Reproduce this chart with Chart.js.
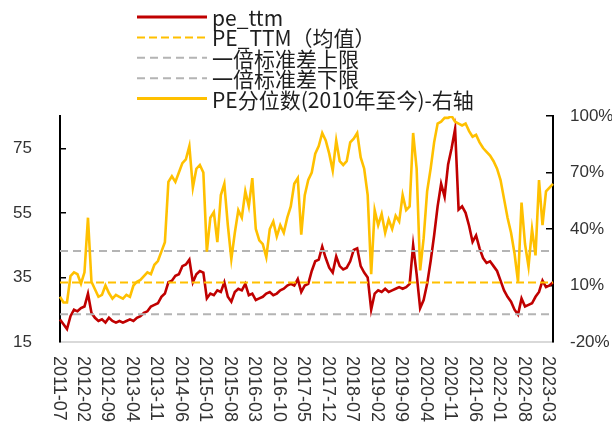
<!DOCTYPE html>
<html>
<head>
<meta charset="utf-8">
<script src="https://cdn.jsdelivr.net/npm/chart.js@4.4.1/dist/chart.umd.min.js"></script>
<style>
  html, body { margin: 0; padding: 0; background: #fff; }
  #wrap { width: 612px; height: 427px; }
</style>
</head>
<body>
<div id="wrap"><canvas id="c" width="612" height="427"></canvas></div>
<script>
// Monthly series, July 2011 through April 2023
const startYear = 2011;
const startMonth = 7;
const monthCount = 142;

// pe_ttm, monthly
const peTtm = [
  22, 20.5, 19, 23, 25, 24.5, 25.5, 26, 30, 24,
  22.5, 21.5, 22, 21, 22.5, 21.5, 21, 21.5, 21, 21.5,
  22, 21.5, 22.5, 23, 24, 24.5, 26, 26.5, 27, 29,
  30, 33.5, 34, 35.5, 36, 38.5, 39, 40.5, 33.5, 36,
  37, 36.5, 28.5, 30, 29.5, 31, 30.5, 33.5, 29, 27.5,
  30.5, 31.5, 31, 33, 29.5, 30, 28, 28.5, 29, 30,
  30.5, 29.5, 30, 31, 31.5, 32.5, 33, 32.5, 34.5, 30.5,
  32.5, 33, 37, 40, 40.5, 44.5, 41, 38, 36.5, 41.5,
  38.5, 37.5, 38, 40, 43.5, 44, 38.5, 36.5, 35, 25,
  30, 31, 30.5, 31.5, 30.5, 31, 31.5, 32, 31.5, 32,
  33, 45, 36, 25.5, 28, 33, 40, 48, 57, 64,
  60, 70, 75, 81, 56, 57, 55, 51, 46, 48,
  44, 41, 39.5, 40, 38.5, 37, 34, 31, 29, 27.5,
  25, 23.5, 28.5, 26, 26.5, 27, 29, 30.5, 34, 32,
  32.5, 33.5
];

// PE percentile since 2010 (%), monthly
const pePercentile = [
  4, 1, 1, 15, 17, 16, 11, 17, 46, 12,
  8, 4, 5, 10, 6, 3, 5, 4, 3, 5,
  4, 10, 12, 13, 15, 17, 16, 21, 23, 28,
  33, 65, 68, 65, 70, 75, 77, 84, 62, 72,
  74, 70, 28, 46, 49, 33, 58, 64, 42, 24,
  38, 50, 46, 60, 52, 67, 40, 34, 32, 25,
  40, 44, 36, 42, 38, 46, 52, 64, 67, 37,
  58, 66, 70, 80, 84, 91, 87, 80, 71, 87,
  76, 74, 76, 86, 88, 91, 78, 72, 58, 16,
  50, 42, 48, 38, 45, 40, 47, 44, 58, 50,
  52, 91, 72, 18, 35, 60, 72, 86, 96, 97,
  99, 99, 100, 97, 96, 95, 96, 92, 89, 90,
  86, 83, 81, 79, 76, 72, 66, 56, 46, 38,
  27, 12, 54, 32, 20, 40, 26, 66, 42, 60,
  62, 64
];

// Mean and one-standard-deviation band of pe_ttm
const peMean = [33.4];
const peUpper = [43.2];
const peLower = [23.6];

const seriesNames = ['pe_ttm', 'PE_TTM（均值）', '一倍标准差上限', '一倍标准差下限', 'PE分位数(2010年至今)-右轴'];

const xTickLabels = [
  '2011-07', '2012-02', '2012-09', '2013-04', '2013-11', '2014-06', '2015-01',
  '2015-08', '2016-03', '2016-10', '2017-05', '2017-12', '2018-07', '2019-02',
  '2019-09', '2020-04', '2020-11', '2021-06', '2022-01', '2022-08', '2023-03'
];
const leftTicks = [15, 35, 55, 75];
const rightTicks = [-20, 10, 40, 70, 100];

const categories = [];
for (let i = 0; i < monthCount; i++) {
  const total = startMonth - 1 + i;
  const yy = startYear + Math.floor(total / 12);
  const mm = (total % 12) + 1;
  categories.push(yy + '-' + String(mm).padStart(2, '0'));
}
const flat = v => categories.map(() => v);

const RED = '#C00000';
const GOLD = '#FFC000';
const GREY = '#B4B4B4';

const tickFont = { family: "'Liberation Sans', Arial, sans-serif", size: 17 };

// Stacked legend in the top band
const legendPlugin = {
  id: 'stackLegend',
  afterDraw(chart) {
    const ctx = chart.ctx;
    const x0 = 137, x1 = 207, tx = 212, y0 = 17, step = 20.4;
    chart.data.datasets.forEach((ds, i) => {
      const y = y0 + i * step;
      ctx.save();
      ctx.beginPath();
      ctx.strokeStyle = ds.borderColor;
      ctx.lineWidth = ds.legendWidth;
      ctx.setLineDash(ds.borderDash || []);
      ctx.moveTo(x0, y);
      ctx.lineTo(x1, y);
      ctx.stroke();
      ctx.setLineDash([]);
      ctx.fillStyle = '#1e1e1e';
      ctx.font = "21px 'Noto Sans CJK SC', sans-serif";
      ctx.textAlign = 'left';
      ctx.textBaseline = 'middle';
      ctx.fillText(ds.label, tx, y + 1);
      ctx.restore();
    });
  }
};

// Vertical date labels under the x axis, read top to bottom
const dateLabelPlugin = {
  id: 'dateLabels',
  afterDraw(chart) {
    const ctx = chart.ctx;
    const xs = chart.scales.x;
    const top = chart.chartArea.bottom + 14;
    ctx.save();
    ctx.fillStyle = '#333';
    ctx.font = "18px 'Liberation Sans', Arial, sans-serif";
    ctx.textAlign = 'left';
    ctx.textBaseline = 'middle';
    xTickLabels.forEach(lbl => {
      const idx = categories.indexOf(lbl);
      if (idx < 0) return;
      const px = xs.getPixelForValue(idx) - 1.5;
      ctx.save();
      ctx.translate(px, top);
      ctx.rotate(Math.PI / 2);
      ctx.fillText(lbl, 0, 0);
      ctx.restore();
    });
    ctx.restore();
  }
};

new Chart(document.getElementById('c'), {
  type: 'line',
  data: {
    labels: categories,
    datasets: [
      { label: seriesNames[0], data: peTtm, yAxisID: 'y', borderColor: RED, borderWidth: 2.6, legendWidth: 3, pointRadius: 0, order: 5 },
      { label: seriesNames[1], data: flat(peMean[0]), yAxisID: 'y', borderColor: GOLD, borderWidth: 2, legendWidth: 2, borderDash: [8, 4], pointRadius: 0, order: 4 },
      { label: seriesNames[2], data: flat(peUpper[0]), yAxisID: 'y', borderColor: GREY, borderWidth: 2, legendWidth: 2, borderDash: [8, 5], pointRadius: 0, order: 3 },
      { label: seriesNames[3], data: flat(peLower[0]), yAxisID: 'y', borderColor: GREY, borderWidth: 2, legendWidth: 2, borderDash: [8, 5], pointRadius: 0, order: 2 },
      { label: seriesNames[4], data: pePercentile, yAxisID: 'y1', borderColor: GOLD, borderWidth: 2.6, legendWidth: 3, pointRadius: 0, order: 1 }
    ]
  },
  options: {
    responsive: false,
    animation: false,
    events: [],
    layout: { padding: { top: 116, left: 0, right: 0, bottom: 0 } },
    plugins: { legend: { display: false }, tooltip: { enabled: false } },
    scales: {
      x: {
        type: 'category',
        offset: false,
        grid: { display: false },
        border: { color: '#D9D9D9', width: 2 },
        ticks: { display: false },
        afterFit: s => { s.height = 85; }
      },
      y: {
        position: 'left',
        min: leftTicks[0],
        max: 85,
        afterBuildTicks: s => { s.ticks = leftTicks.map(v => ({ value: v })); },
        ticks: { font: tickFont, color: '#333', padding: 34 },
        grid: { display: true, drawOnChartArea: false, drawTicks: true, tickLength: -6, color: '#000', lineWidth: 1.5 },
        border: { color: '#000', width: 2 },
        afterFit: s => { s.width = 60; }
      },
      y1: {
        position: 'right',
        min: rightTicks[0],
        max: rightTicks[rightTicks.length - 1],
        afterBuildTicks: s => { s.ticks = rightTicks.map(v => ({ value: v })); },
        ticks: { font: tickFont, color: '#333', padding: 24, callback: v => v + '%' },
        grid: { display: true, drawOnChartArea: false, drawTicks: true, tickLength: -7, color: '#000', lineWidth: 1.5 },
        border: { color: '#000', width: 2 },
        afterFit: s => { s.width = 59; }
      }
    }
  },
  plugins: [legendPlugin, dateLabelPlugin]
});
</script>
</body>
</html>
